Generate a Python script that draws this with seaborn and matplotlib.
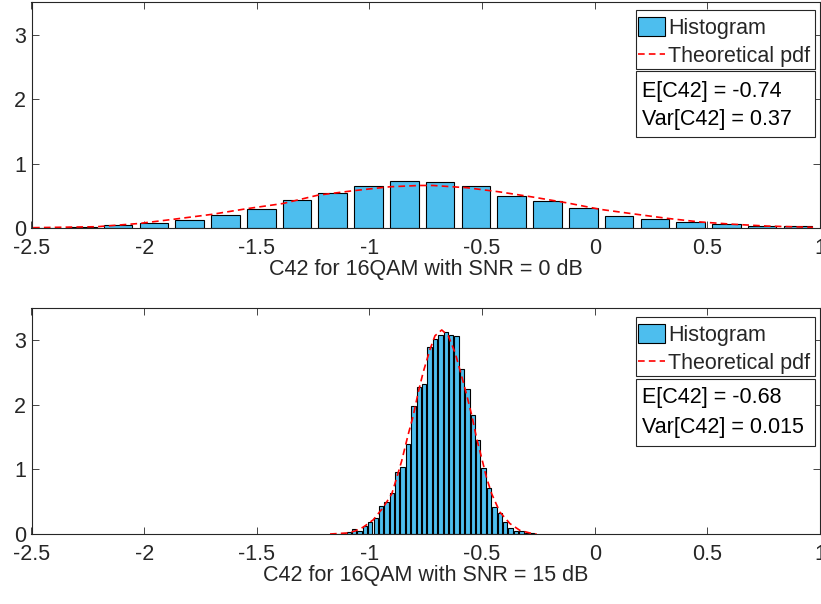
import numpy as np
import pandas as pd
import matplotlib
matplotlib.use('Agg')
import matplotlib.pyplot as plt
import matplotlib.transforms as mtransforms
from matplotlib.patches import Patch, Rectangle
from matplotlib.lines import Line2D
import seaborn as sns

# ---------------- data ----------------
top_centers = [-2.4334, -2.2746, -2.1157, -1.9569, -1.7980, -1.6392, -1.4804, -1.3215,
               -1.1627, -1.0038, -0.8450, -0.6862, -0.5273, -0.3685, -0.2096, -0.0508,
               0.1080, 0.2669, 0.4257, 0.5846, 0.7434, 0.9022]
top_heights = [0.005, 0.01, 0.04, 0.073, 0.13, 0.20, 0.30, 0.44, 0.55, 0.65, 0.73,
               0.71, 0.65, 0.50, 0.42, 0.31, 0.19, 0.14, 0.094, 0.069, 0.037, 0.03]
top_pdf_x = [-2.493, -2.209, -2.023, -1.859, -1.703, -1.544, -1.384, -1.228, -1.069,
             -0.909, -0.776, -0.718, -0.567, -0.421, -0.274, -0.123, 0.023, 0.170,
             0.321, 0.467, 0.614, 0.765, 0.969]
top_pdf_y = [0.005, 0.02, 0.07, 0.14, 0.21, 0.30, 0.38, 0.51, 0.58, 0.64, 0.66, 0.66,
             0.625, 0.56, 0.48, 0.39, 0.29, 0.22, 0.15, 0.094, 0.058, 0.03, 0.01]

bot_centers = [-1.1400, -1.1160, -1.0921, -1.0681, -1.0442, -1.0202, -0.9963, -0.9723,
               -0.9484, -0.9244, -0.9005, -0.8765, -0.8525, -0.8286, -0.8046, -0.7807,
               -0.7567, -0.7328, -0.7088, -0.6849, -0.6609, -0.6370, -0.6130, -0.5890,
               -0.5651, -0.5411, -0.5172, -0.4932, -0.4693, -0.4453, -0.4214, -0.3974,
               -0.3734, -0.3495, -0.3255, -0.3016, -0.2776]
bot_heights = [0.005, 0.015, 0.036, 0.078, 0.05, 0.13, 0.18, 0.25, 0.44, 0.50, 0.63,
               0.96, 1.04, 1.40, 1.98, 2.28, 2.33, 2.90, 3.02, 3.08, 3.13, 3.08, 3.06,
               2.55, 2.25, 1.85, 1.46, 1.02, 0.72, 0.42, 0.32, 0.19, 0.10, 0.04, 0.04,
               0.02, 0.01]
bot_pdf_x = [-1.175, -1.101, -1.064, -1.027, -0.983, -0.939, -0.901, -0.879, -0.857,
             -0.828, -0.805, -0.783, -0.761, -0.731, -0.709, -0.679, -0.650, -0.620,
             -0.591, -0.568, -0.546, -0.524, -0.502, -0.480, -0.457, -0.421, -0.376,
             -0.332, -0.287, -0.258]
bot_pdf_y = [0.0, 0.015, 0.046, 0.107, 0.22, 0.41, 0.62, 0.87, 1.13, 1.54, 1.84, 2.20,
             2.51, 2.86, 3.07, 3.16, 3.07, 2.81, 2.45, 2.15, 1.84, 1.48, 1.18, 0.87,
             0.62, 0.34, 0.16, 0.056, 0.015, 0.0]

x_ticks = [-2.5, -2, -1.5, -1, -0.5, 0, 0.5, 1]
x_ticklabels = ['-2.5', '-2', '-1.5', '-1', '-0.5', '0', '0.5', '1']
y_ticks = [0, 1, 2, 3]
y_ticklabels = ['0', '1', '2', '3']
x_labels = ['C42 for 16QAM with SNR = 0 dB', 'C42 for 16QAM with SNR = 15 dB']
stat_texts = [['E[C42] = -0.74', 'Var[C42] = 0.37'],
              ['E[C42] = -0.68', 'Var[C42] = 0.015']]
legend_labels = ['Histogram', 'Theoretical pdf']

# ---------------- style ----------------
sns.set_style('ticks')
plt.rcParams['font.family'] = ['Liberation Sans', 'DejaVu Sans']
plt.rcParams['axes.unicode_minus'] = False

FS = 15.5
BLUE = '#4DBEEE'
DARK = '#262626'
DASH = (0, (4, 2.5))

W, H = 821, 604
fig = plt.figure(figsize=(W / 100, H / 100), dpi=100)
pix = mtransforms.Affine2D().scale(1 / W, -1 / H).translate(0, 1) + fig.transFigure


def add_axes_px(left, top, right, bottom):
    return fig.add_axes([left / W, 1 - bottom / H, (right - left) / W, (bottom - top) / H])


def box(ax, top, bottom):
    rect = Rectangle((636, top), 179, bottom - top, transform=pix,
                     facecolor='white', edgecolor=DARK, linewidth=0.8, zorder=4,
                     clip_on=False)
    ax.add_patch(rect)


def panel(ax, centers, heights, px, py, xlabel, stats, leg_top, leg_bot,
          box_top, box_bot, t1, t2):
    c = np.asarray(centers, dtype=float)
    w = np.diff(c).mean()
    edges = np.append(c - w / 2, c[-1] + w / 2).tolist()
    hist_df = pd.DataFrame({'x': c, 'h': np.asarray(heights, dtype=float)})
    sns.histplot(data=hist_df, x='x', weights='h', bins=edges, shrink=0.8,
                 color=BLUE, edgecolor='black', linewidth=0.8, alpha=1, ax=ax)
    pdf_df = pd.DataFrame({'x': px, 'y': py})
    sns.lineplot(data=pdf_df, x='x', y='y', color='red', linewidth=1.2, ax=ax)
    ax.lines[-1].set_linestyle(DASH)

    ax.set_xlim(-2.5, 1)
    ax.set_ylim(0, 3.5)
    ax.set_xticks(x_ticks)
    ax.set_xticklabels(x_ticklabels)
    ax.set_yticks(y_ticks)
    ax.set_yticklabels(y_ticklabels)
    ax.set_ylabel('')
    ax.set_xlabel(xlabel, fontsize=FS, color=DARK, labelpad=0)
    ax.tick_params(direction='in', top=True, right=True, length=5, width=0.6,
                   colors=DARK, labelsize=FS)
    ax.tick_params(axis='x', pad=7)
    ax.tick_params(axis='y', pad=4)
    for s in ax.spines.values():
        s.set_visible(True)
        s.set_color(DARK)
        s.set_linewidth(0.8)

    # legend frame drawn as a box, legend entries inside it
    box(ax, leg_top, leg_bot)
    handles = [Patch(facecolor=BLUE, edgecolor='black', linewidth=0.8),
               Line2D([], [], color='red', linestyle=DASH, linewidth=1.2)]
    leg = ax.legend(handles, legend_labels, loc='upper left',
                    bbox_to_anchor=(638, leg_top + 7), bbox_transform=pix,
                    borderaxespad=0, frameon=False, borderpad=0,
                    handlelength=1.25, handletextpad=0.15, labelspacing=0.3,
                    fontsize=FS, handleheight=1.0)
    leg.set_zorder(6)

    box(ax, box_top, box_bot)
    ax.text(642, t1, stats[0], transform=pix, va='center', ha='left',
            fontsize=FS, color='black', zorder=7, clip_on=False)
    ax.text(642, t2, stats[1], transform=pix, va='center', ha='left',
            fontsize=FS, color='black', zorder=7, clip_on=False)


ax1 = add_axes_px(31.5, 2.5, 820, 228)
ax2 = add_axes_px(31.5, 308, 820, 534)

panel(ax1, top_centers, top_heights, top_pdf_x, top_pdf_y, x_labels[0], stat_texts[0],
      10, 69, 71, 137, 91, 119)
panel(ax2, bot_centers, bot_heights, bot_pdf_x, bot_pdf_y, x_labels[1], stat_texts[1],
      317, 376, 379, 446, 398, 427)

fig.savefig('out.png', dpi=100)
